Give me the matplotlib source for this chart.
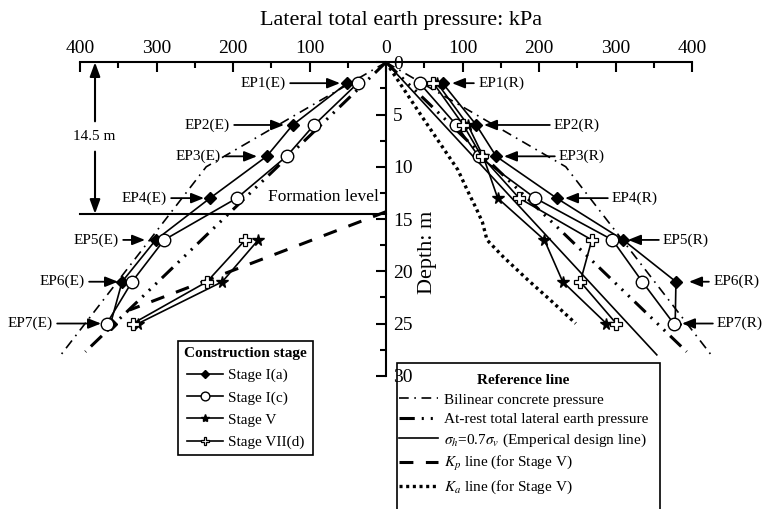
import numpy as np
import matplotlib.pyplot as plt
from matplotlib.lines import Line2D
from matplotlib.patches import Rectangle
from matplotlib.ticker import FixedLocator, FuncFormatter

plt.rcParams['font.family'] = 'Liberation Serif'
plt.rcParams['mathtext.fontset'] = 'stix'
plt.rcParams['lines.scale_dashes'] = False

# earth pressure cell depths (m)
ep_depth = [2, 6, 9, 13, 17, 21, 25]
ep_depth_low = [17, 21, 25]

# excavation side (E), kPa
stage_ia_E = [51, 122, 156, 230, 301, 345, 360]
stage_ic_E = [37, 94, 130, 195, 290, 332, 365]
stage_v_E = [167, 214, 324]
stage_viid_E = [184, 234, 331]

# retained side (R), kPa
stage_ia_R = [74, 118, 144, 223, 310, 379, 378]
stage_ic_R = [44, 92, 121, 195, 296, 335, 376]
stage_v_R = [67, 107, 127, 146, 207, 231, 288]
stage_viid_R = [62, 101, 125, 174, 269, 254, 301]

# reference lines (depth m, pressure kPa)
bilin_z = [0, 10, 28]
bilin_p = [0, 235, 425]
atrest_z = [0, 27.7]
atrest_p = [0, 393]
emp_z = [0, 28]
emp_p = [0, 354]
kp_z = [14.3, 23.7]
kp_p = [0, 335]
ka_z = [0, 5.2, 10.3, 12.2, 14, 15.3, 17, 18.6, 20.8, 22.7, 25]
ka_p = [0, 47, 94, 106, 118, 126, 132, 153, 185, 214, 248]
formation = 14.5

ls_bilin = (0, (7, 4, 1.2, 4))
ls_atrest = (0, (11, 5, 1.5, 5, 1.5, 5, 1.5, 5))
ls_kp = (0, (10, 9))
ls_ka = (0, (2.2, 2.6))

neg = lambda a: -np.array(a)

fig = plt.figure(figsize=(7.62, 5.09), dpi=100)
ax = fig.add_axes([0, 0, 1, 1])
ax.set_xlim(-504.6, 491.5)
ax.set_ylim(42.75, -5.96)
ax.patch.set_visible(False)

# reference lines
for s in (1, -1):
    ax.plot(s * np.array(bilin_p), bilin_z, c='k', lw=1.2, ls=ls_bilin)
    ax.plot(s * np.array(atrest_p), atrest_z, c='k', lw=2.2, ls=ls_atrest)
ax.plot(emp_p, emp_z, c='k', lw=1.2)
ax.plot(neg(kp_p), kp_z, c='k', lw=2.2, ls=ls_kp)
ax.plot(ka_p, ka_z, c='k', lw=2.4, ls=ls_ka)

# formation level
ax.plot([-400, 0], [formation, formation], c='k', lw=1.5)
ax.text(-82, 12.85, 'Formation level', fontsize=12.5, ha='center', va='center')

# measured pressures
st_ia = dict(c='k', lw=1.2, marker='D', ms=6, mfc='k', mec='k', zorder=5)
st_ic = dict(c='k', lw=1.2, marker='o', ms=9, mfc='w', mec='k', zorder=5)
st_v = dict(c='k', lw=1.2, marker='*', ms=8.5, mfc='k', mec='k', zorder=5)
st_vii = dict(c='k', lw=1.2, marker='P', ms=8.5, mfc='w', mec='k', mew=0.9, zorder=5)

ax.plot(neg(stage_ia_E), ep_depth, **st_ia)
ax.plot(neg(stage_ic_E), ep_depth, **st_ic)
ax.plot(neg(stage_v_E), ep_depth_low, **st_v)
ax.plot(neg(stage_viid_E), ep_depth_low, **st_vii)
ax.plot(stage_ia_R, ep_depth, **st_ia)
ax.plot(stage_ic_R, ep_depth, **st_ic)
ax.plot(stage_v_R, ep_depth, **st_v)
ax.plot(stage_viid_R, ep_depth, **st_vii)

# cell labels with arrows
arrow = dict(arrowstyle='-|>,head_length=0.55,head_width=0.22', color='k', lw=1.3,
             mutation_scale=14, shrinkA=1, shrinkB=0)
lab_E = [(-130.7, -60.1), (-203.9, -133.3), (-215.7, -168.6), (-286.3, -237.9),
         (-349.0, -315.0), (-393.5, -350.3), (-435.3, -372.5)]
lab_R = [(120.3, 86.3), (219.6, 128.1), (226.1, 154.2), (295.4, 234.0),
         (362.1, 316.3), (427.5, 396.1), (432.7, 386.9)]
for i, z in enumerate(ep_depth):
    tx, tip = lab_E[i]
    ax.annotate('EP%d(E)' % (i + 1), xy=(tip, z), xytext=(tx, z), fontsize=11,
                ha='right', va='center', arrowprops=arrow)
    tx, tip = lab_R[i]
    ax.annotate('EP%d(R)' % (i + 1), xy=(tip, z), xytext=(tx, z), fontsize=11,
                ha='left', va='center', arrowprops=arrow)

# 14.5 m dimension arrow
dim = dict(arrowstyle='-|>,head_length=0.6,head_width=0.22', color='k', lw=1.5,
           mutation_scale=14, shrinkA=0, shrinkB=0)
ax.annotate('', xy=(-380.4, 0), xytext=(-380.4, 5.65), arrowprops=dim)
ax.annotate('', xy=(-380.4, formation), xytext=(-380.4, 8.55), arrowprops=dim)
ax.text(-381.7, 7.15, '14.5 m', fontsize=11, ha='center', va='center')

# axes: pressure along the top, depth down the middle
for sp in ('left', 'bottom'):
    ax.spines[sp].set_visible(False)
ax.spines['top'].set_position(('data', 0))
ax.spines['top'].set_bounds(-400, 400)
ax.spines['right'].set_position(('data', 0))
ax.spines['right'].set_bounds(0, 30)
ax.spines['top'].set_linewidth(1.5)
ax.spines['right'].set_linewidth(1.5)

ax.xaxis.set_ticks_position('top')
ax.set_xticks(np.arange(-400, 401, 100))
ax.xaxis.set_minor_locator(FixedLocator(np.arange(-350, 400, 100)))
ax.xaxis.set_major_formatter(FuncFormatter(lambda v, p: '%d' % abs(v)))
ax.tick_params(axis='x', which='both', direction='in', top=True, bottom=False,
               labeltop=True, labelbottom=False, labelsize=14, pad=4)
ax.tick_params(axis='x', which='major', length=7, width=1.5)
ax.tick_params(axis='x', which='minor', length=4, width=1.5)

ax.yaxis.set_ticks_position('right')
ax.set_yticks(np.arange(0, 31, 5))
ax.yaxis.set_minor_locator(FixedLocator(np.arange(2.5, 30, 5)))
ax.tick_params(axis='y', which='both', direction='in', right=True, left=False,
               labelright=True, labelleft=False, labelsize=14, pad=5)
ax.tick_params(axis='y', which='major', length=7, width=1.5)
ax.tick_params(axis='y', which='minor', length=4, width=1.5)

ax.text(19.6, -4.0, 'Lateral total earth pressure: kPa', fontsize=16, ha='center', va='center')
ax.text(53.6, 18.15, 'Depth: m', fontsize=16, rotation=90, ha='center', va='center')

# legends
h1 = [Line2D([], [], **st_ia), Line2D([], [], **st_ic),
      Line2D([], [], **st_v), Line2D([], [], **st_vii)]
l1 = ['Stage I(a)', 'Stage I(c)', 'Stage V', 'Stage VII(d)']
leg1 = fig.legend(h1, l1, loc='upper left', bbox_to_anchor=(0.2336, 0.330),
                  borderaxespad=0, fontsize=11, title='Construction stage',
                  title_fontproperties={'weight': 'bold', 'size': 11},
                  fancybox=False, edgecolor='k', framealpha=1, markerscale=0.7,
                  borderpad=0.4, labelspacing=0.55, handlelength=2.4,
                  handletextpad=0.3)
leg1.get_frame().set_linewidth(1.2)

h2 = [Line2D([], [], c='k', lw=1.2, ls=ls_bilin),
      Line2D([], [], c='k', lw=2.2, ls=ls_atrest),
      Line2D([], [], c='k', lw=1.2),
      Line2D([], [], c='k', lw=2.2, ls=ls_kp),
      Line2D([], [], c='k', lw=2.4, ls=ls_ka)]
l2 = ['Bilinear concrete pressure', 'At-rest total lateral earth pressure',
      r'$\sigma_h$=0.7$\sigma_v$ (Emperical design line)',
      r'$K_p$ line (for Stage V)', r'$K_a$ line (for Stage V)']
leg2 = fig.legend(h2, l2, loc='upper left', bbox_to_anchor=(0.508, 0.2868),
                  borderaxespad=0, fontsize=11, title='Reference line',
                  title_fontproperties={'weight': 'bold', 'size': 11},
                  frameon=False, borderpad=0.75, labelspacing=0.36,
                  handlelength=2.6, handletextpad=0.4)
fig.add_artist(Rectangle((0.521, -0.02), 0.345, 0.3068, transform=fig.transFigure,
                         fill=False, lw=1.2, ec='k'))

fig.savefig('out.png', dpi=100)
